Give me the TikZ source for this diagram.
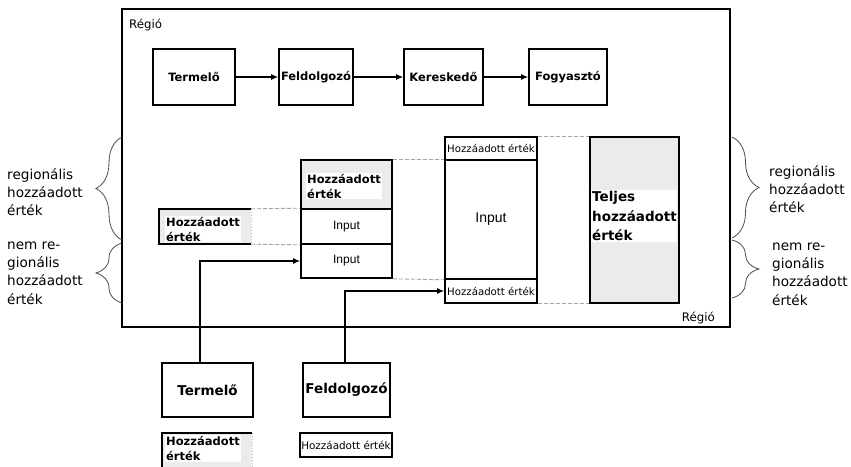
\documentclass[tikz,border=0pt]{standalone}
\usepackage{fontspec}
\setmainfont{DejaVu Sans}
\newfontfamily\inpf{Liberation Sans}
\newfontfamily\sideF{DejaVu Sans}[Scale=1.36]
\newfontfamily\regF{DejaVu Sans}[Scale=1.18]
\newfontfamily\smF{DejaVu Sans}[Scale=1.02]
\newfontfamily\bsmF{DejaVu Sans}[Scale=1.04]
\usetikzlibrary{arrows.meta,decorations.pathreplacing}
\begin{document}
\begin{tikzpicture}[x=1pt,y=-1pt,
  box/.style={draw=black, line width=1.6pt, inner sep=0pt, align=center},
  topbox/.style={box, font=\bfseries\fontsize{11.5}{14}\selectfont},
  botbox/.style={box, font=\bfseries\fontsize{13.5}{16}\selectfont},
  stip/.style={fill=black!8},
  hzbold/.style={fill=white, inner sep=1pt, align=left, font=\bfseries\fontsize{11.5}{15}\selectfont},
  hzsmall/.style={font=\smF\fontsize{10}{12}\selectfont},
  inp/.style={font=\inpf\fontsize{12}{14}\selectfont},
  side/.style={align=left, inner sep=0pt, font=\sideF\fontsize{10}{18.3}\selectfont},
  arr/.style={line width=1.3pt, -{Latex[length=7pt,width=6pt]}},
  dsh/.style={gray!70, dashed, line width=0.9pt, dash pattern=on 4pt off 2pt},
  brc/.style={decorate, line width=0.8pt, black!70},
  reg/.style={font=\regF\fontsize{10}{12}\selectfont, inner sep=0pt}
]
\clip (0,0) rectangle (851,466);
\useasboundingbox (0,0) rectangle (851,466);
\fill[white] (0,0) rectangle (851,466);

% region
\node[draw=black, line width=1.8pt, minimum width=608pt, minimum height=318pt, inner sep=0pt] (region) at (426,168) {};
\node[reg, anchor=base west] (regtl) at (129,28) {Régió};
\node[reg, anchor=base east] (regbr) at (715,321) {Régió};

% top chain
\node[topbox, minimum width=82pt, minimum height=56pt] (t1) at (194,77) {Termelő};
\node[topbox, minimum width=74pt, minimum height=56pt] (f1) at (316,77) {Feldolgozó};
\node[topbox, minimum width=79pt, minimum height=56pt] (k1) at (443.5,77) {Kereskedő};
\node[topbox, minimum width=78pt, minimum height=56pt] (g1) at (568,77) {Fogyasztó};
\draw[arr] (t1) -- (f1);
\draw[arr] (f1) -- (k1);
\draw[arr] (k1) -- (g1);

% left value-added box
\node[stip, minimum width=92pt, minimum height=35pt, inner sep=0pt] (lhz) at (205,226.5) {};
\draw[line width=1.6pt] (lhz.north east) -- (lhz.north west) -- (lhz.south west) -- (lhz.south east);
\draw[gray!50, dotted, line width=1pt] (lhz.north east) -- (lhz.south east);
\node[hzbold, anchor=west] (lhzt) at (165,229) {Hozzáadott\\érték};

% middle stack
\node[box, stip, minimum width=91pt, minimum height=49pt] (mtop) at (346.5,184.5) {};
\node[hzbold, anchor=west] (mtopt) at (306,186) {Hozzáadott\\érték};
\node[box, inp, minimum width=91pt, minimum height=35pt] (in1) at (346.5,226.5) {Input};
\node[box, inp, minimum width=91pt, minimum height=34pt] (in2) at (346.5,261) {Input};

% right stack
\node[box, hzsmall, minimum width=92pt, minimum height=23pt] (rtop) at (491,148.5) {Hozzáadott érték};
\node[box, font=\inpf\fontsize{14}{16}\selectfont, minimum width=92pt, minimum height=119pt] (rin) at (491,219.5) {Input};
\node[box, hzsmall, minimum width=92pt, minimum height=24pt] (rbot) at (491,291) {Hozzáadott érték};

% total
\node[box, stip, minimum width=89pt, minimum height=166pt] (tot) at (634.5,220) {};
\node[fill=white, inner sep=1pt, align=left, anchor=west, text width=84pt, font=\bfseries\fontsize{13.5}{19.5}\selectfont] (tott) at (591,216) {Teljes\\hozzáadott\\érték};

% dashed guides
\draw[dsh] (lhz.north east) -- (in1.north west);
\draw[dsh] (lhz.south east) -- (in1.south west);
\draw[dsh] (mtop.north east) -- (rin.north west);
\draw[dsh] (in2.south east) -- (rin.south west);
\draw[dsh] (rtop.north east) -- (tot.north west);
\draw[dsh] (rbot.south east) -- (tot.south west);

% braces
\draw[brc, decoration={brace, amplitude=26pt}] (122,240) -- (122,137);
\draw[brc, decoration={brace, amplitude=26pt}] (122,303) -- (122,243);
\draw[brc, decoration={brace, amplitude=27pt}] (732,137) -- (732,238);
\draw[brc, decoration={brace, amplitude=27pt}] (732,240) -- (732,298);
\node[side, anchor=west] (sl1) at (7,192) {regionális\\hozzáadott\\érték};
\node[side, anchor=west] (sl2) at (7,273) {nem re-\\gionális\\hozzáadott\\érték};
\node[side, anchor=west] (sr1) at (769,189) {regionális\\hozzáadott\\érték};
\node[side, anchor=west] (sr2) at (772,274) {nem re-\\gionális\\hozzáadott\\érték};

% bottom actors
\node[botbox, minimum width=91pt, minimum height=54pt] (t2) at (207.5,390) {Termelő};
\node[botbox, minimum width=87pt, minimum height=54pt] (f2) at (346.5,390) {Feldolgozó};
\draw[arr] ([xshift=-7.5pt]t2.north) |- (in2.west);
\draw[arr] ([xshift=-1.5pt]f2.north) |- (rbot.west);

% bottom value-added boxes
\node[stip, minimum width=90pt, minimum height=44pt, inner sep=0pt] (bhz) at (207,455) {};
\draw[line width=1.6pt] (bhz.south west) -- (bhz.north west) -- (bhz.north east);
\draw[gray!50, dotted, line width=1pt] (bhz.north east) -- (bhz.south east);
\node[hzbold, anchor=north west] (bhzt) at (165,435) {Hozzáadott\\érték};
\node[box, font=\bsmF\fontsize{10}{12}\selectfont, line width=1.4pt, minimum width=92pt, minimum height=24pt] (bsm) at (346,445) {Hozzáadott érték};
\end{tikzpicture}
\end{document}
